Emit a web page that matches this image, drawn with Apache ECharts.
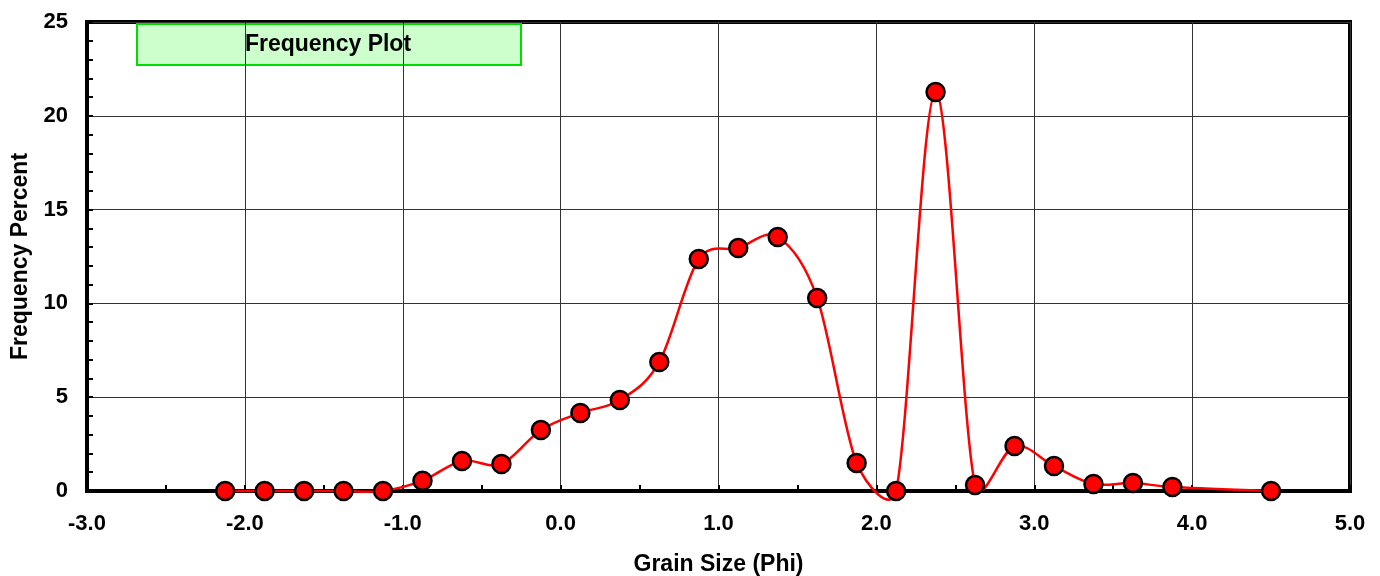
<!DOCTYPE html>
<html>
<head>
<meta charset="utf-8">
<script src="https://cdn.jsdelivr.net/npm/echarts@6/dist/echarts.min.js"></script>
<style>
html,body{margin:0;padding:0;background:#fff;}
#c{width:1380px;height:576px;}
</style>
</head>
<body>
<div id="c"></div>
<script>
var grainSize = [-2.125,-1.875,-1.625,-1.375,-1.125,-0.875,-0.625,-0.375,-0.125,0.125,0.375,0.625,0.875,1.125,1.375,1.625,1.875,2.125,2.375,2.625,2.875,3.125,3.375,3.625,3.875,4.5];
var frequency = [0,0,0,0,0,0.55,1.6,1.44,3.25,4.16,4.85,6.88,12.37,12.95,13.54,10.29,1.49,0,21.27,0.32,2.4,1.33,0.37,0.43,0.21,0];
var titleText = 'Frequency Plot';
var xName = 'Grain Size (Phi)';
var yName = 'Frequency Percent';

var pts = grainSize.map(function(x,i){return [x, frequency[i]];});
var font = '"Liberation Sans", Arial, sans-serif';

// smoothed connecting curve (Excel-style Bezier smoothing), computed in pixel space via the axes
function renderSegment(params, api){
  var i = params.dataIndex, n = pts.length;
  if (i >= n - 1) return null;
  function P(j){ j = Math.max(0, Math.min(n-1, j)); return api.coord(pts[j]); }
  var p0 = P(i-1), p1 = P(i), p2 = P(i+1), p3 = P(i+2);
  function d(a,b){ return Math.sqrt((a[0]-b[0])*(a[0]-b[0])+(a[1]-b[1])*(a[1]-b[1])); }
  var d12 = d(p1,p2), d02 = d(p0,p2) || 1e-9, d13 = d(p1,p3) || 1e-9;
  var f1 = Math.min(1/6, d12/(2*d02)), f2 = Math.min(1/6, d12/(2*d13));
  return {
    type:'bezierCurve',
    shape:{
      x1:p1[0], y1:p1[1], x2:p2[0], y2:p2[1],
      cpx1:p1[0]+(p2[0]-p0[0])*f1, cpy1:p1[1]+(p2[1]-p0[1])*f1,
      cpx2:p2[0]-(p3[0]-p1[0])*f2, cpy2:p2[1]-(p3[1]-p1[1])*f2
    },
    style:{stroke:'#ff0000', lineWidth:2.5, fill:null}
  };
}

var chart = echarts.init(document.getElementById('c'));
chart.setOption({
  animation:false,
  backgroundColor:'#fff',
  grid:{left:87,top:22,right:30,bottom:85,containLabel:false,outerBoundsMode:'none',show:true,borderColor:'#000',borderWidth:4,backgroundColor:'transparent'},
  graphic:[{
    type:'group', left:136, top:23, z:100,
    children:[
      {type:'rect', shape:{x:0,y:0,width:384,height:41}, style:{fill:'#ccffcc',stroke:'#00dd00',lineWidth:2}},
      {type:'text', x:191, y:21, style:{text:titleText, fill:'#000', font:'bold 23px '+font, align:'center', verticalAlign:'middle'}}
    ]
  }],
  xAxis:{
    type:'value', min:-3, max:5, interval:1,
    name:xName, nameLocation:'middle', nameGap:62,
    nameTextStyle:{fontFamily:font,fontWeight:'bold',fontSize:23,color:'#000'},
    axisLine:{show:true,onZero:false,lineStyle:{color:'#000',width:4}},
    axisTick:{show:true,inside:true,length:6,lineStyle:{color:'#000',width:2}},
    minorTick:{show:true,splitNumber:2,length:6,lineStyle:{color:'#000',width:2}},
    splitLine:{show:true,lineStyle:{color:'#333',width:1}},
    axisLabel:{margin:22,fontFamily:font,fontWeight:'bold',fontSize:22,color:'#000',formatter:function(v){return v.toFixed(1);}}
  },
  yAxis:{
    type:'value', min:0, max:25, interval:5,
    name:yName, nameLocation:'middle', nameGap:54, nameRotate:90,
    nameTextStyle:{fontFamily:font,fontWeight:'bold',fontSize:23,color:'#000'},
    axisLine:{show:true,onZero:false,lineStyle:{color:'#000',width:4}},
    axisTick:{show:true,inside:true,length:6,lineStyle:{color:'#000',width:2}},
    minorTick:{show:true,splitNumber:5,length:6,lineStyle:{color:'#000',width:2}},
    splitLine:{show:true,lineStyle:{color:'#333',width:1}},
    axisLabel:{margin:19,fontFamily:font,fontWeight:'bold',fontSize:22,color:'#000'}
  },
  series:[{
    type:'custom', data:pts, renderItem:renderSegment, clip:false,
    encode:{x:0,y:1}, z:9, silent:true
  },{
    type:'scatter', data:pts, clip:false,
    symbol:'circle', symbolSize:18,
    itemStyle:{color:'#ff0000',borderColor:'#000',borderWidth:2.5,opacity:1},
    z:10
  }]
});
</script>
</body>
</html>
